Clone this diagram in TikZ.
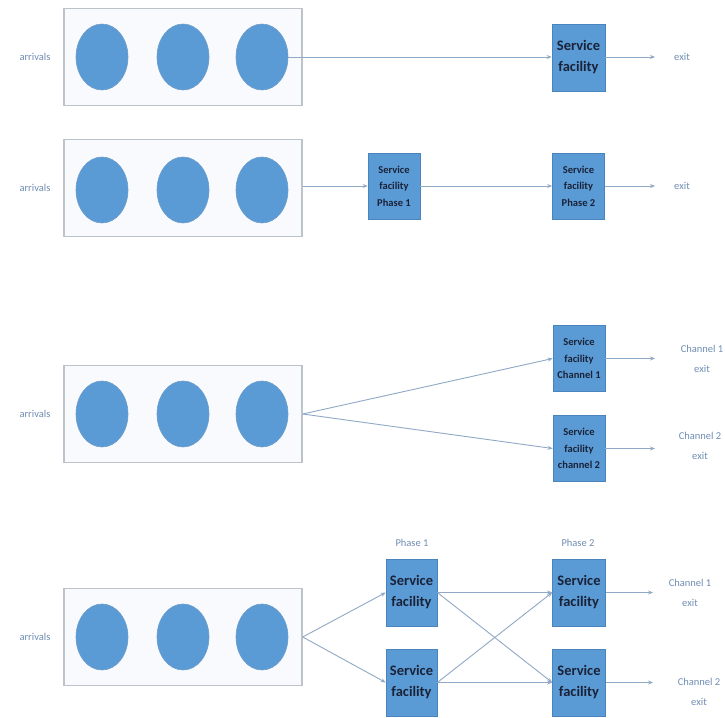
\documentclass[tikz,border=0pt]{standalone}
\usepackage{fontspec}
\setmainfont{Carlito}
\usetikzlibrary{arrows.meta,shapes.geometric}
\definecolor{cblue}{HTML}{5B9BD5}
\definecolor{cbord}{HTML}{4A84BD}
\definecolor{qbord}{HTML}{BCC3CB}
\definecolor{qfill}{HTML}{F8FAFD}
\definecolor{lnc}{HTML}{8FA9C6}
\definecolor{lbl}{HTML}{6F8DB3}
\definecolor{sftext}{HTML}{1A2238}
\tikzset{
  queue/.style={draw=qbord, line width=1.4pt, fill=qfill, minimum width=238, minimum height=97, inner sep=0},
  cust/.style={ellipse, fill=cblue, draw=cbord!80, line width=0.6pt, minimum width=52, minimum height=66, inner sep=0},
  sfbig/.style={fill=cblue, draw=cbord, line width=0.6pt, minimum width=53, minimum height=67, inner sep=0, align=center, text=sftext, font=\bfseries\fontsize{14.5}{21}\selectfont},
  sfsmall/.style={fill=cblue, draw=cbord, line width=0.6pt, minimum width=52, minimum height=66, inner sep=0, align=center, text=sftext, font=\bfseries\fontsize{10.5}{16.5}\selectfont},
  lab/.style={text=lbl, align=center, inner sep=0, font=\fontsize{10.5}{20}\selectfont},
  conn/.style={draw=lnc, line width=0.9pt, -{Stealth[length=5pt,width=4pt]}}
}
\begin{document}
\begin{tikzpicture}[x=1pt,y=-1pt]
\useasboundingbox (0,0) rectangle (725,717);
\fill[white] (0,0) rectangle (725,717);

% ---------- Row 1 ----------
\node[queue] (q1) at (183,57) {};
\node[cust] (c11) at (102,57) {};
\node[cust] (c12) at (183,57) {};
\node[cust] (c13) at (262,57) {};
\node[lab] (ar1) at (35,57) {arrivals};
\node[sfbig] (s1) at (578.5,57.5) {Service\\facility};
\node[lab] (ex1) at (682,57) {exit};
\coordinate (e1) at (655,57);
\draw[conn] (c13.east) -- (s1.west |- c13.east);
\draw[conn] (s1.east |- e1) -- (e1);

% ---------- Row 2 ----------
\node[queue] (q2) at (183,188) {};
\node[cust] (c21) at (102,190) {};
\node[cust] (c22) at (183,190) {};
\node[cust] (c23) at (262,190) {};
\node[lab] (ar2) at (35,188) {arrivals};
\node[sfsmall] (p21) at (394,186) {Service\\facility\\Phase 1};
\node[sfsmall] (p22) at (578.5,186) {Service\\facility\\Phase 2};
\node[lab] (ex2) at (682,186) {exit};
\coordinate (e2) at (655,186);
\draw[conn] (q2.east |- p21.west) -- (p21.west);
\draw[conn] (p21.east) -- (p22.west);
\draw[conn] (p22.east) -- (e2);

% ---------- Row 3 ----------
\node[queue] (q3) at (183,414) {};
\node[cust] (c31) at (102,414) {};
\node[cust] (c32) at (183,414) {};
\node[cust] (c33) at (262,414) {};
\node[lab] (ar3) at (35,414) {arrivals};
\node[sfsmall] (ch1) at (579,358.5) {Service\\facility\\Channel 1};
\node[sfsmall] (ch2) at (579,448.5) {Service\\facility\\channel 2};
\coordinate (e31) at (655,358.5);
\coordinate (e32) at (655,448.5);
\node[lab] (ex31) at (702,359) {Channel 1\\exit};
\node[lab] (ex32) at (700,446) {Channel 2\\exit};
\draw[conn] (q3.east) -- (ch1.west);
\draw[conn] (q3.east) -- (ch2.west);
\draw[conn] (ch1.east) -- (e31);
\draw[conn] (ch2.east) -- (e32);

% ---------- Row 4 ----------
\node[queue] (q4) at (183,637) {};
\node[cust] (c41) at (102,637) {};
\node[cust] (c42) at (183,637) {};
\node[cust] (c43) at (262,637) {};
\node[lab] (ar4) at (35,637) {arrivals};
\node[sfbig, minimum width=51] (a1) at (411.5,592.5) {Service\\facility};
\node[sfbig, minimum width=51] (a2) at (411.5,682.5) {Service\\facility};
\node[sfbig] (b1) at (579,592.5) {Service\\facility};
\node[sfbig] (b2) at (579,682.5) {Service\\facility};
\node[lab] (ph1) at (412,543) {Phase 1};
\node[lab] (ph2) at (578,543) {Phase 2};
\coordinate (e41) at (653,592.5);
\coordinate (e42) at (653,682.5);
\node[lab] (ex41) at (690,593) {Channel 1\\exit};
\node[lab] (ex42) at (699,692) {Channel 2\\exit};
\draw[conn] (q4.east) -- (a1.west);
\draw[conn] (q4.east) -- (a2.west);
\draw[conn] (a1.east) -- (b1.west);
\draw[conn] (a1.east) -- (b2.west);
\draw[conn] (a2.east) -- (b1.west);
\draw[conn] (a2.east) -- (b2.west);
\draw[conn] (b1.east) -- (e41);
\draw[conn] (b2.east) -- (e42);
\end{tikzpicture}
\end{document}
